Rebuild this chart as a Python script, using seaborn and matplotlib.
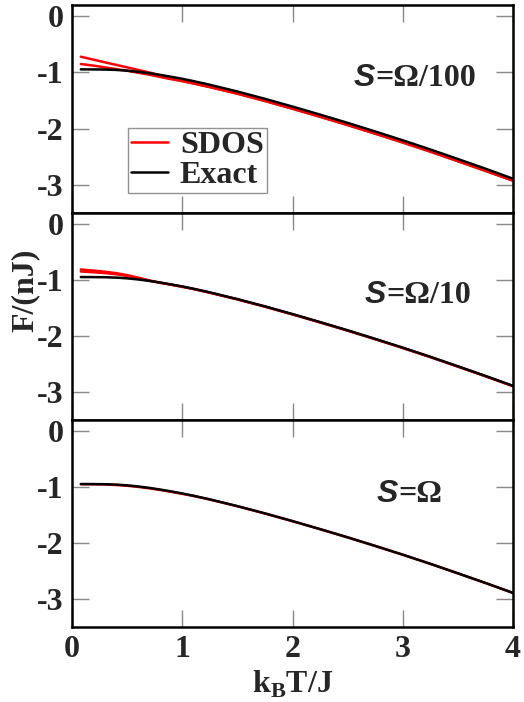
import matplotlib
matplotlib.use("Agg")
import matplotlib.pyplot as plt
import seaborn as sns
import pandas as pd

sns.set_theme(style="white")
plt.rcParams['font.family'] = ['Liberation Serif', 'DejaVu Serif']
plt.rcParams['font.weight'] = 'bold'
plt.rcParams['axes.unicode_minus'] = False
plt.rcParams['mathtext.fontset'] = 'custom'
plt.rcParams['mathtext.bf'] = 'Liberation Serif:bold'
plt.rcParams['mathtext.rm'] = 'Liberation Serif:bold'

# ---- data ----
T = [0.08, 0.2, 0.3, 0.4, 0.5, 0.6, 0.7, 0.8, 0.9, 1.0, 1.1, 1.25, 1.5, 1.75,
     2.0, 2.25, 2.5, 2.75, 3.0, 3.25, 3.5, 3.75, 4.0]
exact = [-0.945, -0.946, -0.948, -0.955, -0.968, -0.988, -1.013, -1.043,
         -1.077, -1.113, -1.153, -1.219, -1.339, -1.469, -1.607, -1.75,
         -1.897, -2.05, -2.207, -2.37, -2.54, -2.712, -2.89]

# S = Omega/100 (two SDOS runs)
sdos100_a = [-0.72, -0.775, -0.82, -0.865, -0.91, -0.955, -1.0, -1.05, -1.10,
             -1.15, -1.195, -1.262, -1.379, -1.509, -1.647, -1.79, -1.937,
             -2.09, -2.247, -2.41, -2.58, -2.752, -2.925]
sdos100_b = [-0.85, -0.88, -0.91, -0.94, -0.97, -1.005, -1.04, -1.08, -1.12,
             -1.155, -1.192, -1.256, -1.374, -1.504, -1.642, -1.785, -1.932,
             -2.085, -2.242, -2.405, -2.575, -2.747, -2.925]
# S = Omega/10
sdos10_a = [-0.81, -0.83, -0.85, -0.875, -0.91, -0.955, -1.005, -1.047,
            -1.082, -1.118, -1.158, -1.224, -1.344, -1.474, -1.612, -1.755,
            -1.902, -2.055, -2.212, -2.375, -2.545, -2.717, -2.895]
sdos10_b = [-0.845, -0.86, -0.875, -0.895, -0.925, -0.965, -1.01, -1.047,
            -1.082, -1.118, -1.158, -1.224, -1.344, -1.474, -1.612, -1.755,
            -1.902, -2.055, -2.212, -2.375, -2.545, -2.717, -2.895]
# S = Omega
sdos1 = [-0.947, -0.948, -0.952, -0.962, -0.976, -0.996, -1.021, -1.051,
         -1.085, -1.12, -1.157, -1.222, -1.342, -1.472, -1.609, -1.752,
         -1.899, -2.052, -2.209, -2.372, -2.542, -2.714, -2.892]

label_tail = ["=Ω/100", "=Ω/10", "=Ω"]
label_pos = [(2.75, -1.10), (2.85, -1.27), (2.96, -1.13)]
xticks = [0, 1, 2, 3, 4]
yticks = [0, -1, -2, -3]

panels = [[sdos100_a, sdos100_b], [sdos10_a, sdos10_b], [sdos1]]

fig = plt.figure(figsize=(5.24, 7.02), dpi=100)
left, right = 72 / 524, 513 / 524
tops = [5, 213, 420]
bots = [213, 420, 627]
axes = []
for i in range(3):
    y0 = 1 - bots[i] / 702
    h = (bots[i] - tops[i]) / 702
    ax = fig.add_axes([left, y0, right - left, h])
    axes.append(ax)

FS = 23
for i, ax in enumerate(axes):
    for j, s in enumerate(panels[i]):
        df = pd.DataFrame({"T": T, "F": s})
        sns.lineplot(data=df, x="T", y="F", ax=ax, color="#ff0000", lw=1.8,
                     estimator=None, label="SDOS" if j == 0 else None,
                     legend=False)
    df = pd.DataFrame({"T": T, "F": exact})
    sns.lineplot(data=df, x="T", y="F", ax=ax, color="black", lw=1.8,
                 estimator=None, label="Exact", legend=False)
    ax.set_xlim(0, 4)
    ax.set_ylim(-3.5, 0.2)
    ax.set_xticks(xticks)
    ax.set_yticks(yticks)
    ax.tick_params(direction="in", length=12, width=1, color="#888888",
                   top=True, right=True, bottom=True, left=True,
                   labelsize=FS, pad=6)
    ax.set_yticklabels([str(v) for v in yticks], fontweight="bold")
    if i < 2:
        ax.set_xticklabels([])
        ax.set_xlabel("")
    else:
        ax.set_xticklabels([str(v) for v in xticks], fontweight="bold")
        ax.set_xlabel(r"k$_\mathbf{B}$T/J", fontsize=FS, fontweight="bold",
                      labelpad=3)
    ax.set_ylabel("")
    for sp in ax.spines.values():
        sp.set_color("black")
        sp.set_linewidth(1.8)
    lx, ly = label_pos[i]
    ax.text(lx, ly, "S", fontsize=FS, fontweight="bold", fontstyle="italic",
            family=["Liberation Sans", "DejaVu Sans"], ha="right",
            va="center")
    ax.text(lx, ly, label_tail[i], fontsize=FS, fontweight="bold",
            ha="left", va="center")

leg = axes[0].legend(loc="lower left", bbox_to_anchor=(0.127, 0.096),
                     fontsize=FS, frameon=True, fancybox=False,
                     handlelength=1.15, handletextpad=0.37, borderpad=0.1,
                     labelspacing=0.0, borderaxespad=0)
leg.get_frame().set_edgecolor("#777777")
leg.get_frame().set_linewidth(1.0)
for t in leg.get_texts():
    t.set_fontweight("bold")

fig.text(25 / 524, 1 - 290 / 702, "F/(nJ)", rotation=90, fontsize=FS,
         fontweight="bold", ha="center", va="center")

fig.savefig("out.png", dpi=100)
